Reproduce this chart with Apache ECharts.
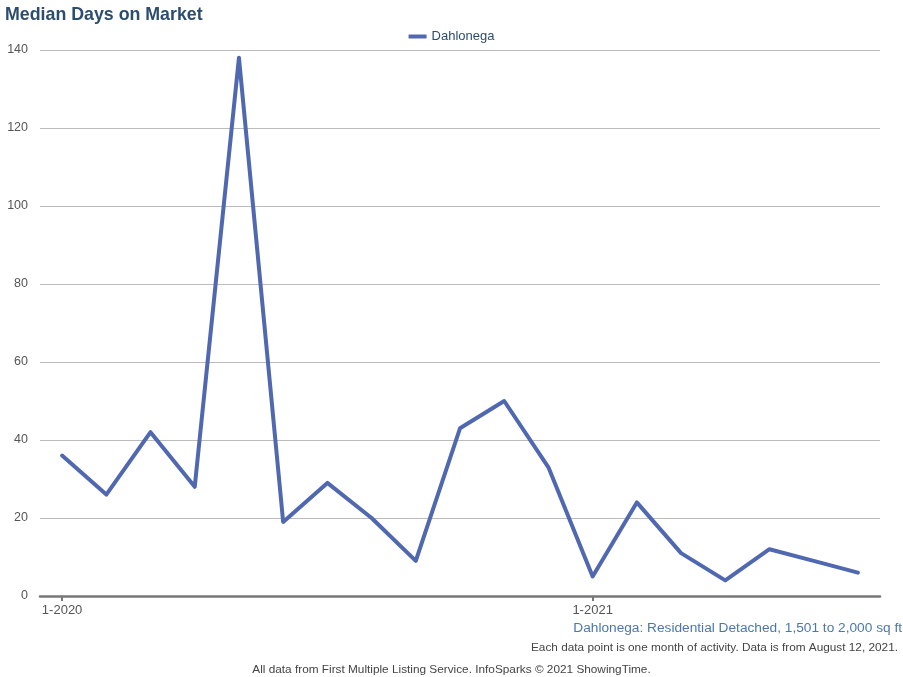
<!DOCTYPE html>
<html>
<head>
<meta charset="utf-8">
<script src="https://cdn.jsdelivr.net/npm/echarts@6/dist/echarts.min.js"></script>
<style>
  html, body { margin: 0; padding: 0; background: #fff; }
  #chart { width: 903px; height: 677px; }
</style>
</head>
<body>
<div id="chart"></div>
<script>
// Monthly median days on market, Jan 2020 – Jul 2021
const months = [
  '1-2020', '2-2020', '3-2020', '4-2020', '5-2020', '6-2020', '7-2020', '8-2020', '9-2020',
  '10-2020', '11-2020', '12-2020', '1-2021', '2-2021', '3-2021', '4-2021', '5-2021', '6-2021', '7-2021'
];
const dahlonega = [36, 26, 42, 28, 138, 19, 29, 20, 9, 43, 50, 33, 5, 24, 11, 4, 12, 9, 6];
const yTicks = [0, 20, 40, 60, 80, 100, 120, 140];
const labeledMonths = ['1-2020', '1-2021'];

const chart = echarts.init(document.getElementById('chart'), null, { renderer: 'canvas' });
const font = 'Helvetica, "Liberation Sans", Arial, sans-serif';

chart.setOption({
  backgroundColor: '#ffffff',
  animation: false,
  textStyle: { fontFamily: font },
  title: [
    {
      text: 'Median Days on Market',
      left: 5, top: 6, padding: 0,
      textStyle: { fontSize: 17.8, fontWeight: 'bold', color: '#2c4d6e', fontFamily: font }
    },
    {
      text: 'Dahlonega: Residential Detached, 1,501 to 2,000 sq ft',
      right: 1, top: 621.5, padding: 0,
      textStyle: { fontSize: 13.7, fontWeight: 'normal', color: '#4a78ad', fontFamily: font }
    },
    {
      text: 'Each data point is one month of activity. Data is from August 12, 2021.',
      right: 5, top: 642, padding: 0,
      textStyle: { fontSize: 11.8, fontWeight: 'normal', color: '#444', fontFamily: font }
    },
    {
      text: 'All data from First Multiple Listing Service. InfoSparks © 2021 ShowingTime.',
      left: 'center', top: 663.5, padding: 0,
      textStyle: { fontSize: 11.8, fontWeight: 'normal', color: '#444', fontFamily: font }
    }
  ],
  legend: {
    top: 25, left: 'center',
    itemWidth: 18, itemHeight: 4,
    icon: 'rect',
    textStyle: { fontSize: 13, color: '#2c4d6e', fontFamily: font },
    data: ['Dahlonega']
  },
  grid: { left: 40, right: 23, top: 50, bottom: 81, containLabel: false },
  xAxis: {
    type: 'category',
    data: months,
    boundaryGap: true,
    axisLine: { show: true, lineStyle: { color: '#777', width: 2.5 } },
    axisTick: {
      show: true, alignWithLabel: true, length: 5,
      interval: (i, v) => labeledMonths.includes(v),
      lineStyle: { color: '#777', width: 2 }
    },
    axisLabel: {
      interval: (i, v) => labeledMonths.includes(v),
      color: '#555', fontSize: 13, margin: 8, fontFamily: font
    },
    splitLine: { show: false }
  },
  yAxis: {
    type: 'value',
    min: yTicks[0], max: yTicks[yTicks.length - 1], interval: 20,
    axisLine: { show: false },
    axisTick: { show: false },
    axisLabel: { color: '#555', fontSize: 12.5, margin: 12, padding: [4, 0, 0, 0], fontFamily: font },
    splitLine: { lineStyle: { color: '#bbbbbb', width: 1 } }
  },
  series: [{
    name: 'Dahlonega',
    type: 'line',
    data: dahlonega,
    symbol: 'none',
    lineStyle: { color: '#5068b0', width: 4, join: 'round', cap: 'round' },
    itemStyle: { color: '#5068b0' }
  }]
});
</script>
</body>
</html>
